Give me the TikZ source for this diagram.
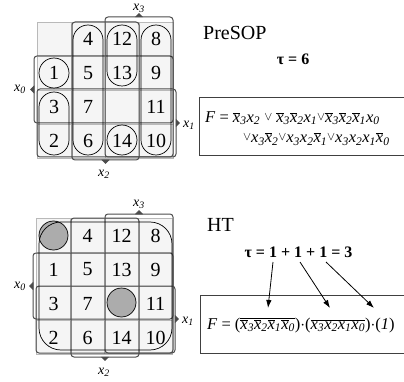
\documentclass[tikz,border=0pt]{standalone}
\usepackage{fontspec}
\setmainfont{Liberation Serif}
\usetikzlibrary{arrows.meta}
\newcommand{\xx}[1]{\textit{x}\textsubscript{\textit{#1}}}
\newcommand{\xn}[1]{$\overline{\mbox{\textit{x}}}$\textsubscript{\textit{#1}}}
\newcommand{\orr}{\raisebox{0.25ex}{$\scriptstyle\vee$}}
\tikzset{
  cell/.style={draw=gray!55, fill=gray!8, minimum size=34pt, inner sep=0pt, font=\fontsize{20}{20}\selectfont},
  loopline/.style={draw=black, line width=0.7pt},
  brk/.style={draw=black!70, line width=1pt, rounded corners=3pt},
  tick/.style={fill=black!70, draw=black!70, line width=0.5pt},
  varlab/.style={font=\fontsize{14}{14}\selectfont, inner sep=0pt},
  title/.style={font=\fontsize{20}{20}\selectfont, anchor=west, inner sep=0pt},
  taulab/.style={font=\fontsize{16}{16}\selectfont\bfseries, inner sep=0pt},
  formula/.style={font=\fontsize{16.5}{18}\selectfont, anchor=west, inner sep=0pt},
  frame/.style={draw=black!75, line width=0.9pt},
  arr/.style={line width=0.8pt, -{Latex[length=8pt,width=5.5pt]}},
  shade/.style={fill=gray!65, draw=black, line width=0.7pt}
}
\begin{document}
\begin{tikzpicture}[x=1pt,y=-1pt]
\useasboundingbox (0,0) rectangle (404,382);
% ---------- top map ----------
\foreach \c/\r/\t in {0/0/{},1/0/4,2/0/12,3/0/8,0/1/1,1/1/5,2/1/13,3/1/9,0/2/3,1/2/7,2/2/{},3/2/11,0/3/2,1/3/6,2/3/14,3/3/10}
  \node[cell] (t\c\r) at ({54+34*\c},{39+34*\r}) {\t};
% brackets top
\draw[brk] (105,17) rectangle (173,157);
\draw[brk] (34,56) rectangle (173,123);
\draw[brk] (37,89) rectangle (176,157);
\draw[brk] (72,22) rectangle (139,160);
\fill[tick] (135.5,17) -- (139,13.5) -- (142.5,17) -- cycle;
\fill[tick] (34,86) -- (30.5,89.5) -- (34,93) -- cycle;
\fill[tick] (176,119.5) -- (179.5,123) -- (176,126.5) -- cycle;
\fill[tick] (102,160) -- (105.5,163.5) -- (109,160) -- cycle;
\node[varlab] (tx3) at (139,8) {\xx{3}};
\node[varlab] (tx0) at (20,89) {\xx{0}};
\node[varlab] (tx1) at (189,125) {\xx{1}};
\node[varlab] (tx2) at (104,174) {\xx{2}};
% loops top
\draw[loopline] (54,73) circle (15pt);
\draw[loopline, rounded corners=15pt] (39,92) rectangle (69,155);
\draw[loopline, rounded corners=15pt] (73,25) rectangle (103,155);
\draw[loopline, rounded corners=15pt] (107,25) rectangle (137,86);
\draw[loopline] (122,140) circle (15pt);
\draw[loopline, rounded corners=15pt] (141,25) rectangle (171,155);
% title and formula top
\node[title] (presop) at (203,33) {PreSOP};
\node[taulab] (tau1) at (293,59) {τ = 6};
\draw[frame] (406,97) -- (199,97) -- (199,155) -- (406,155);
\node[formula] (f1) at (205,118) {\textit{F} = \xn{3}\xx{2} \orr\ \xn{3}\xn{2}\xx{1}\orr\xn{3}\xn{2}\xn{1}\xx{0}};
\node[formula] (f2) at (243,139) {\orr\xx{3}\xn{2}\orr\xx{3}\xx{2}\xn{1}\orr\xx{3}\xx{2}\xx{1}\xn{0}};
% ---------- bottom map ----------
\foreach \c/\r/\t in {0/0/{},1/0/4,2/0/12,3/0/8,0/1/1,1/1/5,2/1/13,3/1/9,0/2/3,1/2/7,2/2/{},3/2/11,0/3/2,1/3/6,2/3/14,3/3/10}
  \node[cell] (b\c\r) at ({53.5+34*\c},{235.5+34*\r}) {\t};
\draw[brk] (105,214) rectangle (173,353);
\draw[brk] (33,253) rectangle (173,319);
\draw[brk] (36,286) rectangle (175,353);
\draw[brk] (71,218) rectangle (139,357);
\fill[tick] (135.5,214) -- (139,210.5) -- (142.5,214) -- cycle;
\fill[tick] (33,282.5) -- (29.5,286) -- (33,289.5) -- cycle;
\fill[tick] (175,315.5) -- (178.5,319) -- (175,322.5) -- cycle;
\fill[tick] (101.5,357) -- (105,360.5) -- (108.5,357) -- cycle;
\node[varlab] (bx3) at (139,204) {\xx{3}};
\node[varlab] (bx0) at (20,286) {\xx{0}};
\node[varlab] (bx1) at (188,321) {\xx{1}};
\node[varlab] (bx2) at (104,372) {\xx{2}};
\draw[shade] (53.5,235.5) circle (14.5pt);
\draw[shade] (121.5,302.5) circle (14.5pt);
\draw[loopline, rounded corners=22pt] (39,222) rectangle (172,350);
% title and formula bottom
\node[title] (ht) at (207,225) {HT};
\node[taulab] (tau2) at (298.5,252) {τ = 1 + 1 + 1 = 3};
\draw[frame] (406,295) -- (200,295) -- (200,353) -- (406,353);
\node[formula] (f3) at (207,325) {\textit{F} = ($\overline{\mbox{\xn{3}\xn{2}\xn{1}\xn{0}}}$)$\cdot$($\overline{\mbox{\xx{3}\xx{2}\xx{1}\xx{0}}}$)$\cdot$(\textit{1})};
\coordinate (s1) at (273,262);
\coordinate (e1) at (268,308);
\coordinate (s2) at (300,262);
\coordinate (e2) at (330,308);
\coordinate (s3) at (326,262);
\coordinate (e3) at (374,308);
\draw[arr] (s1) -- (e1);
\draw[arr] (s2) -- (e2);
\draw[arr] (s3) -- (e3);
\end{tikzpicture}
\end{document}
